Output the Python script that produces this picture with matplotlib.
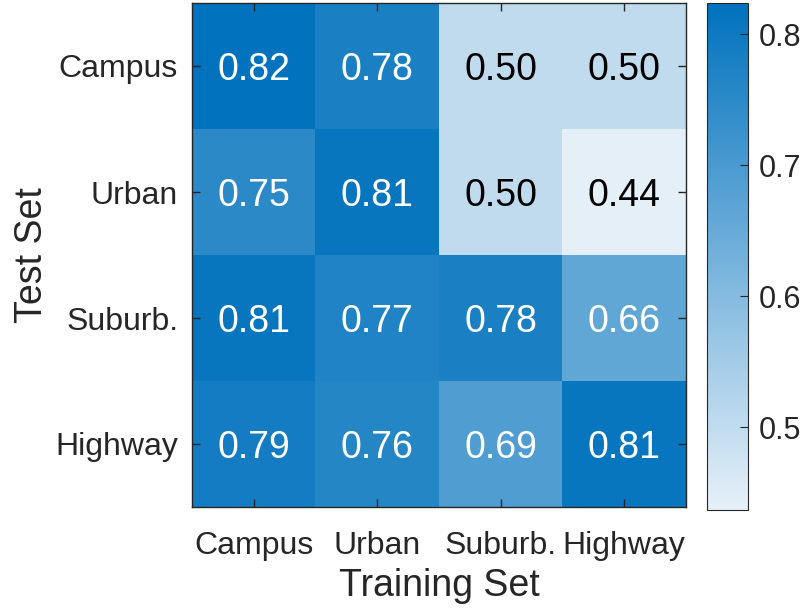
import numpy as np
import matplotlib.pyplot as plt
from matplotlib.colors import LinearSegmentedColormap

train_labels = ['Campus', 'Urban', 'Suburb.', 'Highway']
test_labels = ['Campus', 'Urban', 'Suburb.', 'Highway']

# rows = test set, columns = training set
acc_campus = [0.82, 0.78, 0.50, 0.50]
acc_urban = [0.75, 0.81, 0.50, 0.44]
acc_suburb = [0.81, 0.77, 0.78, 0.66]
acc_highway = [0.79, 0.76, 0.69, 0.81]

data = np.array([acc_campus, acc_urban, acc_suburb, acc_highway])

plt.rcParams['font.family'] = ['Liberation Sans', 'DejaVu Sans']
txt_color = '#262626'

cmap = LinearSegmentedColormap.from_list('blues', ['#e6f0f8', '#0072bd'])
vmin, vmax = 0.437, 0.824

fig = plt.figure(figsize=(8.07, 6.11), dpi=100)
ax = fig.add_axes([192 / 807, 1 - 507 / 611, 494 / 807, 504 / 611])
cax = fig.add_axes([707 / 807, 1 - 510 / 611, 41 / 807, 507 / 611])

im = ax.imshow(data, cmap=cmap, vmin=vmin, vmax=vmax, aspect='auto')

for i in range(data.shape[0]):
    for j in range(data.shape[1]):
        v = data[i, j]
        c = 'white' if v > 0.6 else 'black'
        ax.text(j, i, '%.2f' % v, ha='center', va='center_baseline', color=c, fontsize=27)

ax.set_xticks(range(len(train_labels)))
ax.set_xticklabels(train_labels)
ax.set_yticks(range(len(test_labels)))
ax.set_yticklabels(test_labels)
ax.tick_params(direction='in', length=6, width=1, top=True, right=True,
               labelsize=23, colors=txt_color)
ax.tick_params(axis='x', pad=17)
ax.tick_params(axis='y', pad=10)
ax.set_xlabel('Training Set', fontsize=27, color=txt_color, labelpad=5)
ax.set_ylabel('Test Set', fontsize=27, color=txt_color, labelpad=4)
for s in ax.spines.values():
    s.set_color(txt_color)
    s.set_linewidth(1)

cb = fig.colorbar(im, cax=cax, ticks=[0.5, 0.6, 0.7, 0.8])
cb.ax.tick_params(direction='in', length=6, labelsize=22, colors=txt_color, pad=8)
cb.outline.set_edgecolor(txt_color)

fig.savefig('out.png', dpi=100)
